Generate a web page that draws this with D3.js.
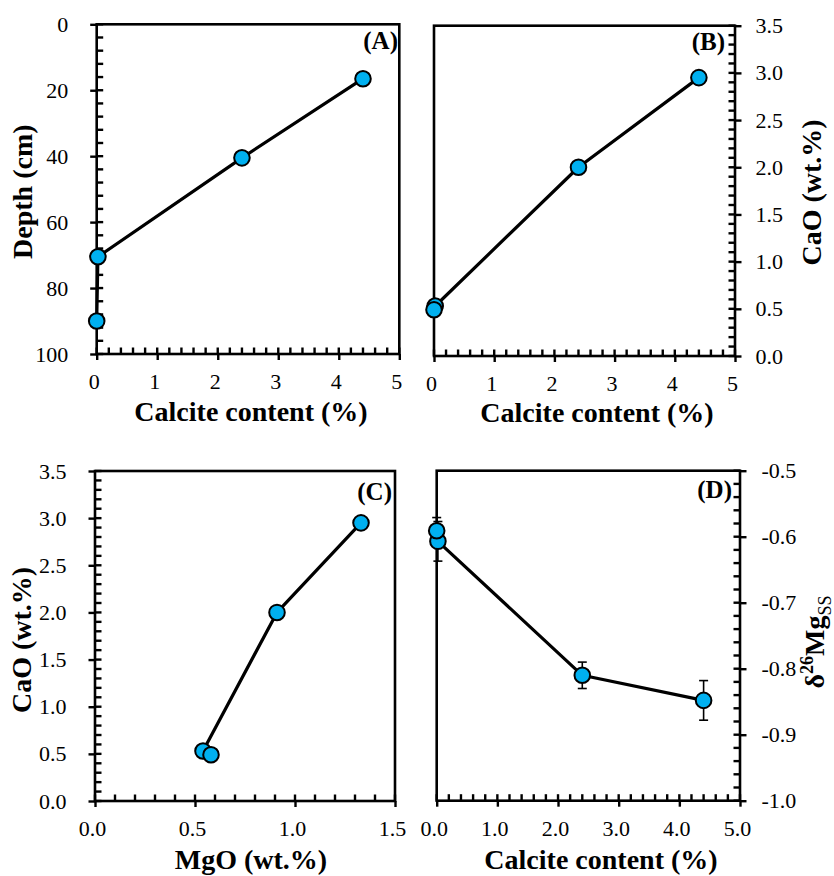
<!DOCTYPE html>
<html>
<head>
<meta charset="utf-8">
<script src="https://cdn.jsdelivr.net/npm/d3@7"></script>
<style>
  html, body { margin: 0; padding: 0; background: #fff; }
  svg { display: block; }
</style>
</head>
<body>
<div id="chart"></div>
<script>
// ---- Data (ordered by sampling depth) ----
const depth      = [16.5, 40.5, 70.5, 90];
const calcite    = [4.4, 2.4, 0.02, 0.0];
const cao        = [2.95, 2.0, 0.53, 0.49];
const mgo        = [1.33, 0.91, 0.54, 0.58];
const d26Mg      = [-0.848, -0.81, -0.607, -0.591];
const d26MgErr   = [0.03, 0.02, 0.03, 0.02];

// ---- Tick labels ----
const ticksCalcite  = [0, 1, 2, 3, 4, 5];
const ticksDepth    = [0, 20, 40, 60, 80, 100];
const ticksCaO      = [0, 0.5, 1, 1.5, 2, 2.5, 3, 3.5];
const ticksMgO      = [0, 0.5, 1, 1.5];
const ticksD26      = [-1.0, -0.9, -0.8, -0.7, -0.6, -0.5];

const W = 834, H = 876;
const FONT = "'Liberation Serif', 'Times New Roman', serif";
const FILL = "#00b0f0";

const svg = d3.select("#chart").append("svg")
  .attr("width", W).attr("height", H)
  .style("background", "#fff");

function steps(a, b, s) {
  const n = Math.round((b - a) / s);
  return d3.range(n + 1).map(i => +(a + i * s).toFixed(4));
}

const panels = [
  { label: "(A)", x0: 96.7, x1: 399.3, y0: 24.3, y1: 354,
    xDom: [0, 5], yDom: [0, 100], yInvert: true,
    xMajor: ticksCalcite, xMinor: steps(0, 5, 0.2), xFmt: d => d3.format("d")(d),
    yMajor: ticksDepth, yMinor: steps(0, 100, 4), yFmt: d => d3.format("d")(d),
    yRight: false, xs: calcite, ys: depth,
    xTitle: "Calcite content (%)", xTitleX: 251, xTitleY: 421,
    yTitle: "Depth (cm)", yTitleX: 32, yTitleY: 191.7, rightPad: 22, labelEnd: 398, labelY: 49 },
  { label: "(B)", x0: 434, x1: 735, y0: 25.7, y1: 356,
    xDom: [0, 5], yDom: [0, 3.5], yInvert: false,
    xMajor: ticksCalcite, xMinor: steps(0, 5, 0.2), xFmt: d => d3.format("d")(d),
    yMajor: ticksCaO, yMinor: steps(0, 3.5, 0.1), yFmt: d => d.toFixed(1),
    yRight: true, xs: calcite, ys: cao,
    xTitle: "Calcite content (%)", xTitleX: 597, xTitleY: 421.5,
    yTitle: "CaO (wt.%)", yTitleX: 821, yTitleY: 192.5, rightPad: 14, labelEnd: 725, labelY: 50 },
  { label: "(C)", x0: 95, x1: 395, y0: 471, y1: 801,
    xDom: [0, 1.5], yDom: [0, 3.5], yInvert: false,
    xMajor: ticksMgO, xMinor: steps(0, 1.5, 0.1), xFmt: d => d.toFixed(1),
    yMajor: ticksCaO, yMinor: steps(0, 3.5, 0.1), yFmt: d => d.toFixed(1),
    yRight: false, xs: mgo, ys: cao,
    xTitle: "MgO (wt.%)", xTitleX: 251, xTitleY: 869,
    yTitle: "CaO (wt.%)", yTitleX: 31, yTitleY: 640, rightPad: 22, labelEnd: 392, labelY: 500 },
  { label: "(D)", x0: 436.7, x1: 740, y0: 470.7, y1: 800.7,
    xDom: [0, 5], yDom: [-1, -0.5], yInvert: false,
    xMajor: ticksCalcite, xMinor: steps(0, 5, 0.2), xFmt: d => d.toFixed(1),
    yMajor: ticksD26, yMinor: steps(-1, -0.5, 0.02), yFmt: d => d.toFixed(1),
    yRight: true, xs: calcite, ys: d26Mg, errs: d26MgErr,
    xTitle: "Calcite content (%)", xTitleX: 601, xTitleY: 869,
    yTitle: null, yTitleX: 824, yTitleY: 642, rightPad: 15, labelEnd: 732, labelY: 498 }
];

function styleAxis(g) {
  g.select(".domain").remove();
  g.selectAll("line").attr("stroke", "#000").attr("stroke-width", 2.4);
  g.selectAll("text").attr("font-family", FONT).attr("font-size", 22).attr("fill", "#000");
  g.attr("font-family", null).attr("font-size", null);
}

panels.forEach(p => {
  const x = d3.scaleLinear().domain(p.xDom).range([p.x0, p.x1]);
  const y = d3.scaleLinear().domain(p.yDom).range(p.yInvert ? [p.y0, p.y1] : [p.y1, p.y0]);
  const g = svg.append("g");

  // minor (inward) ticks on x axis
  g.append("g").attr("stroke", "#000").attr("stroke-width", 2.4)
    .selectAll("line").data(p.xMinor).join("line")
    .attr("x1", d => x(d)).attr("x2", d => x(d))
    .attr("y1", p.y1).attr("y2", p.y1 - 6.5);

  // major x axis (outward ticks + labels)
  g.append("g").attr("transform", `translate(0,${p.y1})`)
    .call(d3.axisBottom(x).tickValues(p.xMajor).tickSizeInner(6).tickSizeOuter(0).tickPadding(13.5).tickFormat(p.xFmt))
    .call(styleAxis)
    .call(a => a.selectAll("text").attr("dx", -3));

  // y axis
  const yx = p.yRight ? p.x1 : p.x0;
  const inward = p.yRight ? -6.5 : 6.5;
  g.append("g").attr("stroke", "#000").attr("stroke-width", 2.4)
    .selectAll("line").data(p.yMinor).join("line")
    .attr("x1", yx).attr("x2", yx + inward)
    .attr("y1", d => y(d)).attr("y2", d => y(d));

  const axisFn = p.yRight ? d3.axisRight : d3.axisLeft;
  g.append("g").attr("transform", `translate(${yx},0)`)
    .call(axisFn(y).tickValues(p.yMajor).tickSizeInner(6.5).tickSizeOuter(0).tickPadding(p.rightPad).tickFormat(p.yFmt))
    .call(styleAxis);

  // frame
  g.append("rect")
    .attr("x", p.x0).attr("y", p.y0)
    .attr("width", p.x1 - p.x0).attr("height", p.y1 - p.y0)
    .attr("fill", "none").attr("stroke", "#000").attr("stroke-width", 2.6);

  const pts = p.xs.map((v, i) => ({ x: v, y: p.ys[i], e: p.errs ? p.errs[i] : 0 }));

  // error bars
  if (p.errs) {
    const eb = g.append("g").attr("stroke", "#000").attr("stroke-width", 1.6);
    pts.forEach(d => {
      const cx = x(d.x), ya = y(d.y - d.e), yb = y(d.y + d.e);
      eb.append("line").attr("x1", cx).attr("x2", cx).attr("y1", ya).attr("y2", yb);
      eb.append("line").attr("x1", cx - 4.5).attr("x2", cx + 4.5).attr("y1", ya).attr("y2", ya);
      eb.append("line").attr("x1", cx - 4.5).attr("x2", cx + 4.5).attr("y1", yb).attr("y2", yb);
    });
  }

  // line
  g.append("path")
    .datum(pts)
    .attr("d", d3.line().x(d => x(d.x)).y(d => y(d.y)))
    .attr("fill", "none").attr("stroke", "#000").attr("stroke-width", 3.2)
    .attr("stroke-linejoin", "round");

  // markers
  g.selectAll("circle.pt").data(pts).join("circle")
    .attr("class", "pt")
    .attr("cx", d => x(d.x)).attr("cy", d => y(d.y)).attr("r", 7.8)
    .attr("fill", FILL).attr("stroke", "#000").attr("stroke-width", 2);

  // panel label
  g.append("text").text(p.label)
    .attr("x", p.labelEnd).attr("y", p.labelY)
    .attr("text-anchor", "end")
    .attr("font-family", FONT).attr("font-weight", "bold").attr("font-size", 25);

  // x title
  g.append("text").text(p.xTitle)
    .attr("x", p.xTitleX).attr("y", p.xTitleY)
    .attr("text-anchor", "middle")
    .attr("font-family", FONT).attr("font-weight", "bold").attr("font-size", 28);

  // y title
  const yt = g.append("text")
    .attr("transform", `translate(${p.yTitleX},${p.yTitleY}) rotate(-90)`)
    .attr("text-anchor", "middle")
    .attr("font-family", FONT).attr("font-weight", "bold").attr("font-size", 28);
  if (p.yTitle) {
    yt.text(p.yTitle);
  } else {
    yt.append("tspan").text("δ");
    yt.append("tspan").text("26").attr("font-size", 18).attr("dy", -11);
    yt.append("tspan").text("Mg").attr("dy", 11);
    yt.append("tspan").text("SS").attr("font-size", 18).attr("font-weight", "normal").attr("dy", 7);
  }
});
</script>
</body>
</html>
